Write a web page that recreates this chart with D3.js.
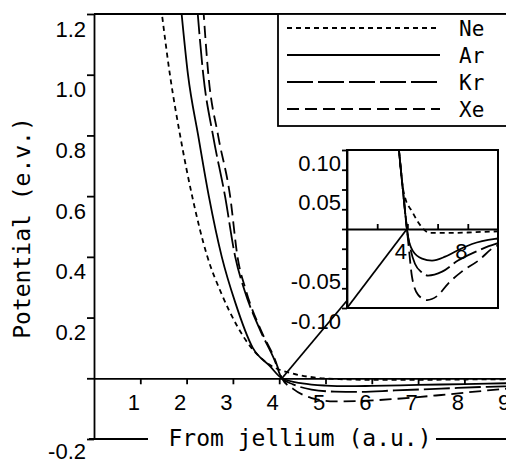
<!DOCTYPE html>
<html>
<head>
<meta charset="utf-8">
<script src="https://cdn.jsdelivr.net/npm/d3@7"></script>
<style>
body { margin: 0; background: #fff; }
svg { font-family: "DejaVu Sans Mono", "Liberation Mono", monospace; }
</style>
</head>
<body>
<div id="chart"></div>
<script>
// main panel curves: [distance from jellium (a.u.), potential (e.v.)]
var neMain = [[1.45,1.22],[1.64,1.0],[1.86,0.8],[2.12,0.6],[2.45,0.4],[2.75,0.28],[3.1,0.17],[3.4,0.10],[3.74,0.05],[4.3,0.015],[4.8,0.002],[5.3,-0.003],[6,-0.005],[7,-0.005],[8,-0.004],[9,-0.003]];
var arMain = [[1.88,1.22],[2.03,1.0],[2.25,0.8],[2.48,0.6],[2.76,0.4],[3.05,0.25],[3.43,0.10],[3.8,0.04],[4.06,0],[4.5,-0.017],[5,-0.024],[5.5,-0.026],[6,-0.025],[7,-0.022],[8,-0.019],[9,-0.016]];
var krMain = [[2.23,1.22],[2.36,1.0],[2.57,0.8],[2.83,0.6],[3.05,0.4],[3.25,0.29],[3.59,0.158],[3.9,0.06],[4.06,0],[4.3,-0.02],[4.7,-0.037],[5.2,-0.044],[5.7,-0.045],[6.5,-0.04],[7.5,-0.034],[8.5,-0.028],[9,-0.026]];
var xeMain = [[2.36,1.22],[2.47,1.0],[2.68,0.8],[2.94,0.6],[3.1,0.4],[3.28,0.29],[3.6,0.16],[3.9,0.065],[4.06,0],[4.3,-0.035],[4.7,-0.065],[5.2,-0.076],[5.7,-0.075],[6.5,-0.068],[7.5,-0.055],[8.5,-0.04],[9,-0.033]];

// inset (well region, enlarged)
var neInset = [[3.3,0.13],[3.44,0.10],[3.7,0.052],[3.84,0.04],[4.3,0.0225],[4.7,0.009],[5.5,-0.005],[7,-0.005],[8.5,-0.004],[10,-0.003]];
var arInset = [[3.3,0.13],[3.44,0.10],[3.7,0.05],[3.97,0],[4.04,-0.01],[4.37,-0.028],[4.97,-0.0375],[5.63,-0.04],[6.5,-0.035],[7.28,-0.0275],[8.28,-0.019],[9.8,-0.0125],[10,-0.012]];
var krInset = [[3.3,0.13],[3.44,0.10],[3.7,0.05],[3.97,0],[4.17,-0.0225],[4.5,-0.044],[4.97,-0.055],[5.36,-0.059],[6.3,-0.054],[7.35,-0.04],[8.5,-0.029],[9.8,-0.019],[10,-0.018]];
var xeInset = [[3.3,0.13],[3.44,0.10],[3.7,0.05],[3.97,0],[4.1,-0.025],[4.3,-0.06],[4.7,-0.083],[5.3,-0.09],[5.96,-0.085],[6.7,-0.069],[7.6,-0.054],[8.7,-0.04],[9.8,-0.0225],[10,-0.021]];

var gases = ["Ne", "Ar", "Kr", "Xe"];
var crossMain = 4.06, crossInset = 3.97;

// ticks
var yTicks = [1.2, 1.0, 0.8, 0.6, 0.4, 0.2, 0, -0.2];
var yTickLabels = ["1.2", "1.0", "0.8", "0.6", "0.4", "0.2", "", "-0.2"];
var xTicks = [1, 2, 3, 4, 5, 6, 7, 8, 9];
var insetYTicks = [0.1, 0.075, 0.05, 0.025, 0, -0.025, -0.05, -0.075, -0.1];
var insetYLabels = ["0.10", "", "0.05", "", "", "", "-0.05", "", "-0.10"];
var insetXTicks = [2, 4, 6, 8];
var insetXLabels = ["", "4", "", "8"];

var width = 506, height = 462;
var dashFor = { Ne: "5,4", Ar: null, Kr: "26,5", Xe: "12,6" };
var lw = 1.8;

var svg = d3.select("#chart").append("svg")
    .attr("width", width)
    .attr("height", height);

var x = d3.scaleLinear().domain([0, 9]).range([94, 510.7]);
var y = d3.scaleLinear().domain([-0.2, 1.2]).range([439, 14]);

svg.append("clipPath").attr("id", "mainClip")
    .append("rect")
    .attr("x", x(0)).attr("y", y(1.2))
    .attr("width", width - x(0)).attr("height", y(-0.2) - y(1.2));

// Y axis
var yAxis = svg.append("g")
    .attr("transform", "translate(" + x(0) + ",0)")
    .call(d3.axisLeft(y).tickValues(yTicks).tickSize(7).tickSizeOuter(0)
        .tickFormat(function(d, i) { return yTickLabels[i]; }));
yAxis.selectAll("text")
    .attr("x", -8).attr("dy", 0)
    .attr("y", function(d) { return d < 0 ? 19 : 22; })
    .style("font-size", "22px").style("font-family", "inherit").attr("fill", "#000");
yAxis.selectAll("line, path").attr("stroke", "#000").attr("stroke-width", lw);

// X axis along zero
var xAxis = svg.append("g")
    .attr("transform", "translate(0," + y(0) + ")")
    .call(d3.axisBottom(x).tickValues(xTicks).tickSize(6).tickSizeOuter(0));
xAxis.selectAll("text")
    .attr("x", -7).attr("dy", 0).attr("y", 32)
    .style("font-size", "22px").style("font-family", "inherit").attr("fill", "#000");
xAxis.selectAll("line, path").attr("stroke", "#000").attr("stroke-width", lw);

// frame: top line and bottom line broken by the title
svg.append("line")
    .attr("x1", x(0)).attr("x2", width).attr("y1", y(1.2)).attr("y2", y(1.2))
    .attr("stroke", "#000").attr("stroke-width", lw);
svg.append("line")
    .attr("x1", x(0) - 5).attr("x2", 148).attr("y1", y(-0.2)).attr("y2", y(-0.2))
    .attr("stroke", "#000").attr("stroke-width", lw);
svg.append("line")
    .attr("x1", 436).attr("x2", width).attr("y1", y(-0.2)).attr("y2", y(-0.2))
    .attr("stroke", "#000").attr("stroke-width", lw);

svg.append("text")
    .attr("x", 300).attr("y", 446)
    .attr("text-anchor", "middle")
    .style("font-size", "23px")
    .text("From jellium (a.u.)");

svg.append("text")
    .attr("transform", "translate(30,228) rotate(-90)")
    .attr("text-anchor", "middle")
    .style("font-size", "23px")
    .text("Potential (e.v.)");

// curves
var mainData = { Ne: neMain, Ar: arMain, Kr: krMain, Xe: xeMain };
var line = d3.line()
    .x(function(d) { return x(d[0]); })
    .y(function(d) { return y(d[1]); })
    .curve(d3.curveMonotoneX);
var curves = svg.append("g").attr("clip-path", "url(#mainClip)");
gases.forEach(function(g) {
    curves.append("path")
        .datum(mainData[g])
        .attr("d", line)
        .attr("fill", "none")
        .attr("stroke", "#000")
        .attr("stroke-width", lw)
        .attr("stroke-dasharray", dashFor[g]);
});

// legend
var legend = svg.append("g");
legend.append("rect")
    .attr("x", 278).attr("y", y(1.2))
    .attr("width", 260).attr("height", 126 - y(1.2))
    .attr("fill", "#fff").attr("stroke", "#000").attr("stroke-width", lw);
gases.forEach(function(g, i) {
    var ly = 28 + i * 27;
    legend.append("line")
        .attr("x1", 287).attr("x2", 440).attr("y1", ly).attr("y2", ly)
        .attr("stroke", "#000").attr("stroke-width", lw)
        .attr("stroke-dasharray", dashFor[g]);
    legend.append("text")
        .attr("x", 459).attr("y", ly + 8)
        .style("font-size", "21px")
        .text(g);
});

// inset
var xi = d3.scaleLinear().domain([0, 10]).range([347, 498]);
var yi = d3.scaleLinear().domain([-0.1, 0.1]).range([308, 150]);

// connector from main crossing point to inset crossing point
svg.append("line")
    .attr("x1", x(crossMain)).attr("y1", y(0))
    .attr("x2", xi(crossInset)).attr("y2", yi(0))
    .attr("stroke", "#000").attr("stroke-width", lw);

var inset = svg.append("g");
inset.append("clipPath").attr("id", "insetClip")
    .append("rect")
    .attr("x", xi(0)).attr("y", yi(0.1))
    .attr("width", xi(10) - xi(0)).attr("height", yi(-0.1) - yi(0.1));

inset.append("rect")
    .attr("x", xi(0)).attr("y", yi(0.1))
    .attr("width", xi(10) - xi(0)).attr("height", yi(-0.1) - yi(0.1))
    .attr("fill", "#fff");

// connector inside the inset
inset.append("line")
    .attr("x1", xi(0)).attr("y1", yi(-0.1))
    .attr("x2", xi(crossInset)).attr("y2", yi(0))
    .attr("stroke", "#000").attr("stroke-width", lw);

var iyAxis = inset.append("g")
    .attr("transform", "translate(" + xi(0) + ",0)")
    .call(d3.axisLeft(yi).tickValues(insetYTicks).tickSize(5).tickSizeOuter(0)
        .tickFormat(function(d, i) { return insetYLabels[i]; }));
iyAxis.selectAll("text")
    .attr("x", -6).attr("dy", 0).attr("y", 20)
    .style("font-size", "22px").style("font-family", "inherit").attr("fill", "#000");
iyAxis.selectAll("line, path").attr("stroke", "#000").attr("stroke-width", lw);

var ixAxis = inset.append("g")
    .attr("transform", "translate(0," + yi(0) + ")")
    .call(d3.axisTop(xi).tickValues(insetXTicks).tickSize(5).tickSizeOuter(0)
        .tickFormat(function(d, i) { return insetXLabels[i]; }));
ixAxis.selectAll("text")
    .attr("x", -7).attr("dy", 0).attr("y", 30)
    .style("font-size", "22px").style("font-family", "inherit").attr("fill", "#000");
ixAxis.selectAll("line, path").attr("stroke", "#000").attr("stroke-width", lw);

var insetData = { Ne: neInset, Ar: arInset, Kr: krInset, Xe: xeInset };
var iline = d3.line()
    .x(function(d) { return xi(d[0]); })
    .y(function(d) { return yi(d[1]); })
    .curve(d3.curveMonotoneX);
var icurves = inset.append("g").attr("clip-path", "url(#insetClip)");
gases.forEach(function(g) {
    icurves.append("path")
        .datum(insetData[g])
        .attr("d", iline)
        .attr("fill", "none")
        .attr("stroke", "#000")
        .attr("stroke-width", lw)
        .attr("stroke-dasharray", dashFor[g]);
});

inset.append("rect")
    .attr("x", xi(0)).attr("y", yi(0.1))
    .attr("width", xi(10) - xi(0)).attr("height", yi(-0.1) - yi(0.1))
    .attr("fill", "none").attr("stroke", "#000").attr("stroke-width", 2);
</script>
</body>
</html>
